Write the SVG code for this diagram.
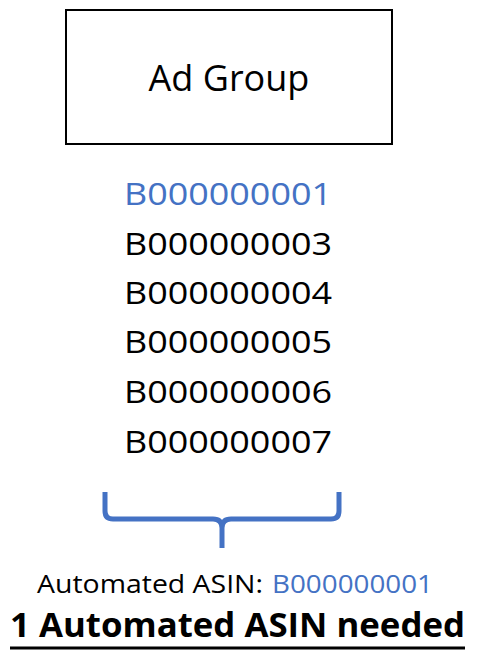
<svg xmlns="http://www.w3.org/2000/svg" width="480" height="663" viewBox="0 0 480 663">
<style>
.t{font-family:"Open Sans","Noto Sans","DejaVu Sans",sans-serif;fill:#000}
.blue{fill:#4472C4}
.asin{font-size:31px}
</style>
<rect width="480" height="663" fill="#fff"/>
<g id="ad-group">
<rect x="66" y="10" width="326" height="134" fill="#fff" stroke="#000" stroke-width="2"/>
<text class="t" x="229" y="91" font-size="36" text-anchor="middle">Ad Group</text>
</g>
<g id="asin-list">
<text class="t asin blue" x="124" y="205" textLength="208" lengthAdjust="spacingAndGlyphs">B000000001</text>
<text class="t asin" x="124" y="255" textLength="208" lengthAdjust="spacingAndGlyphs">B000000003</text>
<text class="t asin" x="124" y="304" textLength="208" lengthAdjust="spacingAndGlyphs">B000000004</text>
<text class="t asin" x="124" y="353" textLength="208" lengthAdjust="spacingAndGlyphs">B000000005</text>
<text class="t asin" x="124" y="403" textLength="208" lengthAdjust="spacingAndGlyphs">B000000006</text>
<text class="t asin" x="124" y="453" textLength="208" lengthAdjust="spacingAndGlyphs">B000000007</text>
</g>
<g id="connectors">
<path d="M105,492 V511 Q105,519 113,519 H213 Q222,519 222,528 V548 M339,492 V511 Q339,519 331,519 H231 Q222,519 222,528" fill="none" stroke="#4472C4" stroke-width="5"/>
</g>
<g id="automated-label">
<text class="t" x="37" y="593" font-size="25" textLength="226" lengthAdjust="spacingAndGlyphs">Automated ASIN:</text>
<text class="t blue" x="272" y="593" font-size="25" textLength="161" lengthAdjust="spacingAndGlyphs">B000000001</text>
</g>
<g id="summary">
<text class="t" x="10" y="637" font-size="34" font-weight="bold" textLength="455" lengthAdjust="spacingAndGlyphs">1 Automated ASIN needed</text>
<line x1="10" y1="648" x2="465" y2="648" stroke="#000" stroke-width="3"/>
</g>
</svg>
